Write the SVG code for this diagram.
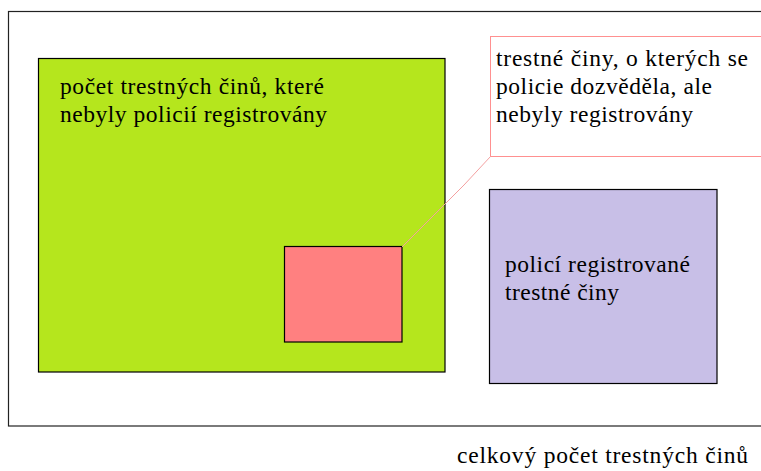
<svg xmlns="http://www.w3.org/2000/svg" width="761" height="471" viewBox="0 0 761 471">
  <style>
    .box { stroke: #000; stroke-width: 1.2; }
    text { font-family: "Liberation Serif", "Times New Roman", "DejaVu Serif", serif; font-size: 23.5px; fill: #000; }
  </style>
  <rect x="0" y="0" width="761" height="471" fill="#fff"/>
  <!-- total frame -->
  <g id="total">
    <rect x="8.5" y="11.5" width="760" height="414.5" fill="#fff" stroke="#222" stroke-width="1.2"/>
    <text x="457" y="463" textLength="291">celkový počet trestných činů</text>
  </g>
  <!-- unregistered crimes -->
  <g id="unregistered">
    <rect class="box" x="38.5" y="58.5" width="406.5" height="313.5" fill="#b5e61d"/>
    <text x="60" y="94" textLength="264">počet trestných činů, které</text>
    <text x="60" y="122" textLength="267">nebyly policií registrovány</text>
  </g>
  <!-- known but unregistered -->
  <g id="known">
    <rect class="box" x="284.5" y="246.5" width="117.5" height="95.5" fill="#ff8080"/>
  </g>
  <!-- callout -->
  <g id="callout">
    <rect x="490.5" y="36.5" width="280" height="120" fill="#fff" stroke="#ff9090" stroke-width="1"/>
    <text x="496" y="66" textLength="252">trestné činy, o kterých se</text>
    <text x="496" y="94" textLength="216">policie dozvěděla, ale</text>
    <text x="496" y="122" textLength="197">nebyly registrovány</text>
  </g>
  <!-- registered crimes -->
  <g id="registered">
    <rect class="box" x="489.5" y="189.5" width="227.5" height="194" fill="#c8bfe7"/>
    <text x="505" y="272" textLength="185">policí registrované</text>
    <text x="505" y="300" textLength="114">trestné činy</text>
  </g>
  <g id="connectors">
    <path d="M490.5 156.5 L464 185 L402 247" fill="none" stroke="#f4a0a0" stroke-width="1"/>
  </g>
</svg>
